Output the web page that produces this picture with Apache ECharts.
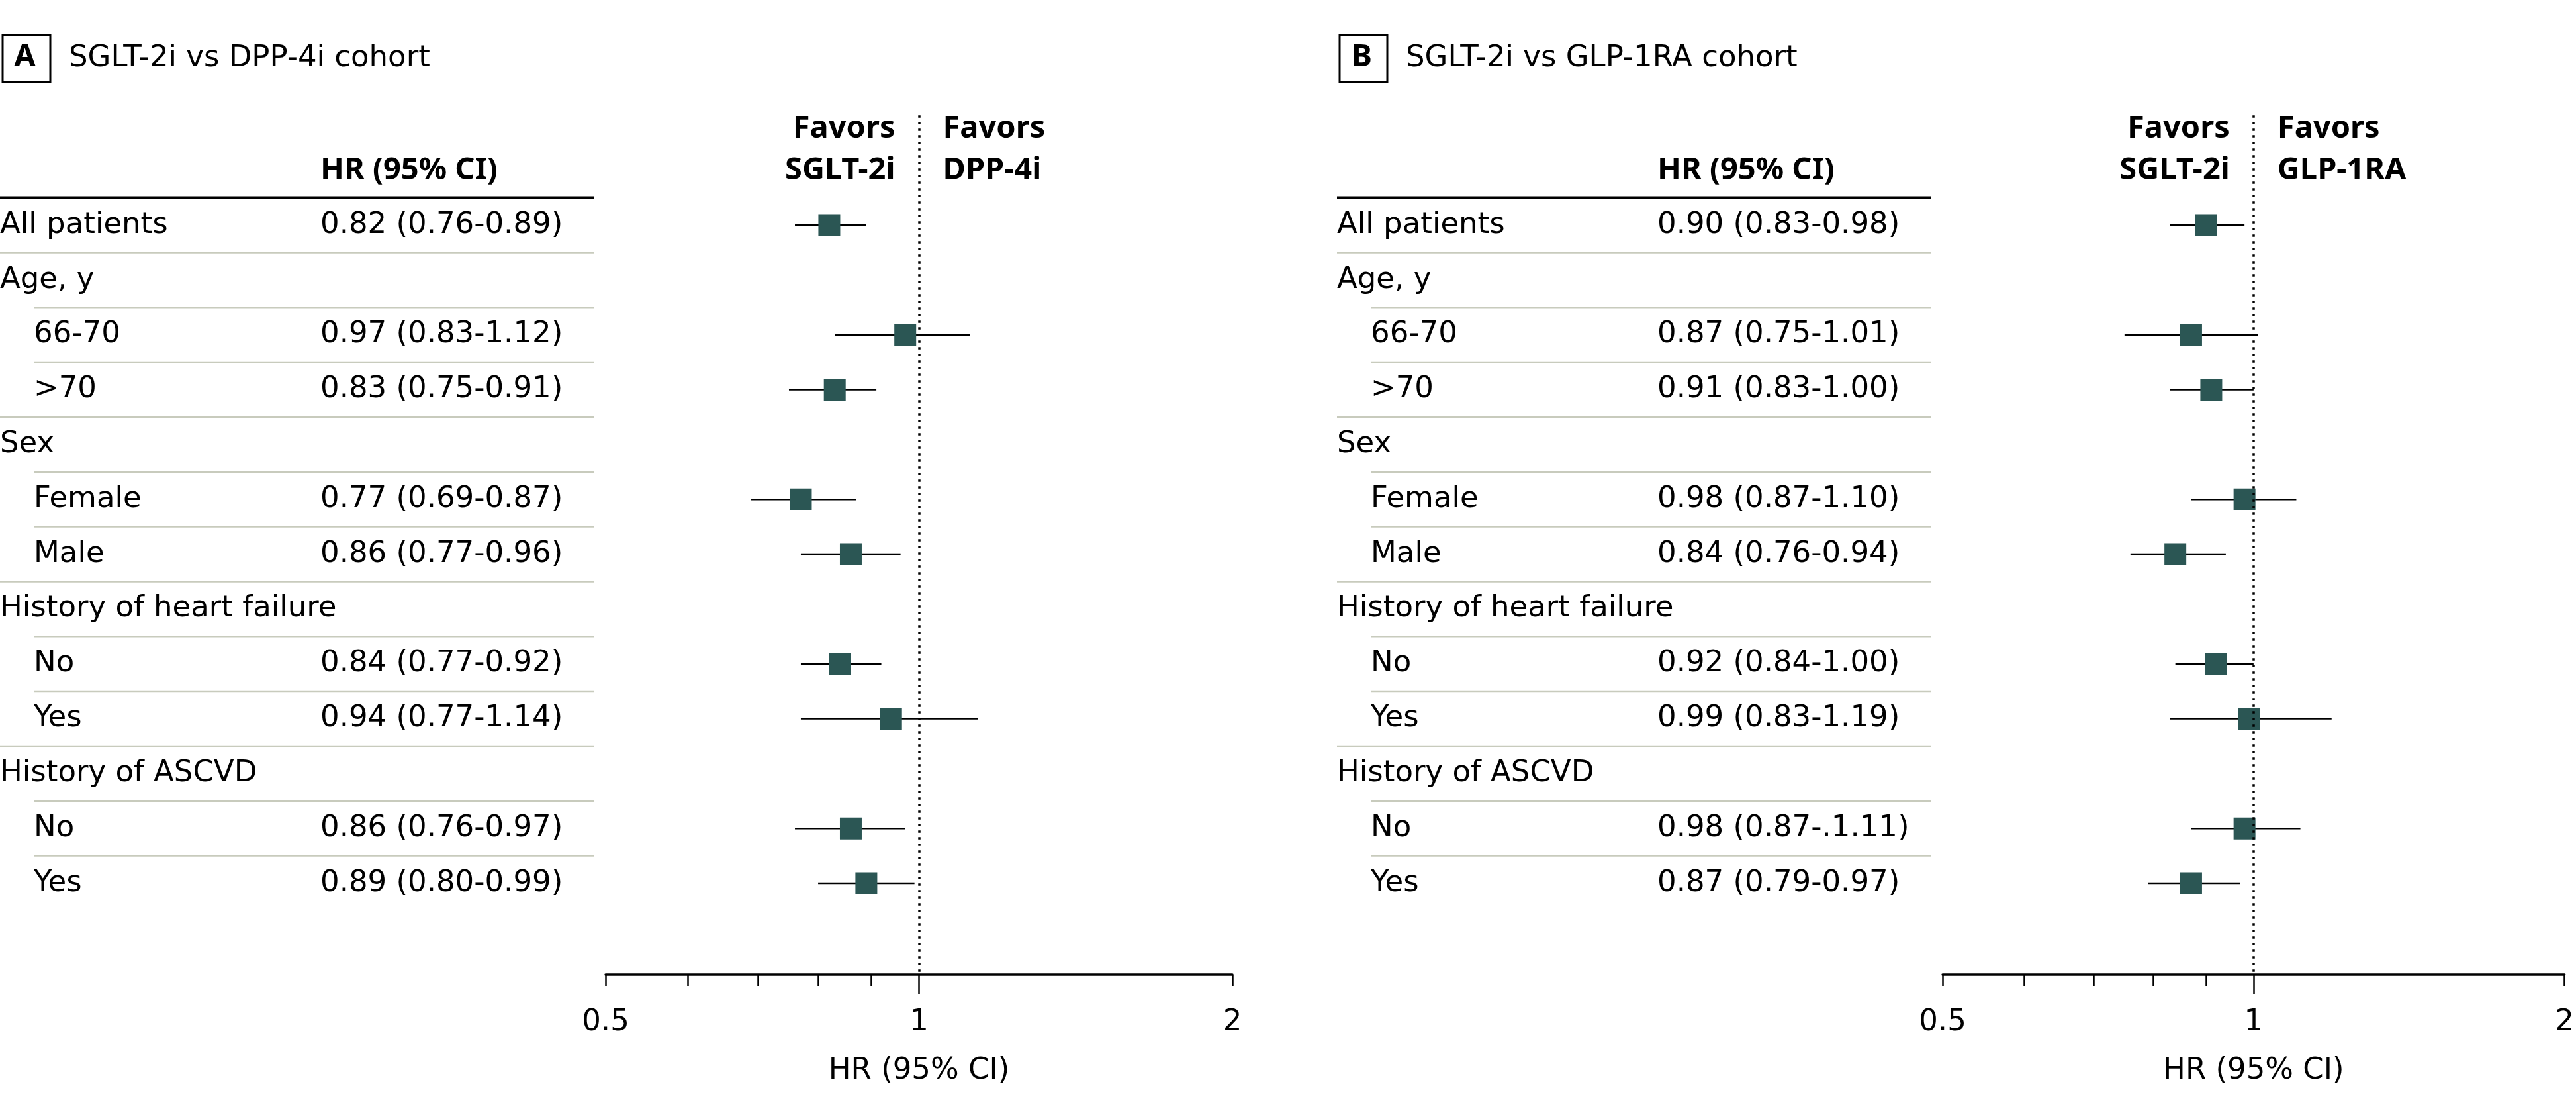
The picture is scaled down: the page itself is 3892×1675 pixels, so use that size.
<!DOCTYPE html>
<html><head><meta charset="utf-8">
<script src="https://cdn.jsdelivr.net/npm/echarts@6/dist/echarts.min.js"></script>
<style>html,body{margin:0;padding:0;background:#fff}#c{width:3892px;height:1675px}</style>
</head><body><div id="c"></div>
<script>
// ---------- data ----------
const rowLabels = ['All patients','Age, y','66-70','>70','Sex','Female','Male','History of heart failure','No','Yes','History of ASCVD','No','Yes'];
const rowIndent = [0,0,1,1,0,1,1,0,1,1,0,1,1];
const panelLetters = ['A','B'];
const panelTitles = ['SGLT-2i vs DPP-4i cohort','SGLT-2i vs GLP-1RA cohort'];
const favorsWord = 'Favors';
const favorsLeft = ['SGLT-2i','SGLT-2i'];
const favorsRight = ['DPP-4i','GLP-1RA'];
const hrA = [0.82,null,0.97,0.83,null,0.77,0.86,null,0.84,0.94,null,0.86,0.89];
const loA = [0.76,null,0.83,0.75,null,0.69,0.77,null,0.77,0.77,null,0.76,0.80];
const hiA = [0.89,null,1.12,0.91,null,0.87,0.96,null,0.92,1.14,null,0.97,0.99];
const textA = ['0.82 (0.76-0.89)','','0.97 (0.83-1.12)','0.83 (0.75-0.91)','','0.77 (0.69-0.87)','0.86 (0.77-0.96)','','0.84 (0.77-0.92)','0.94 (0.77-1.14)','','0.86 (0.76-0.97)','0.89 (0.80-0.99)'];
const hrB = [0.90,null,0.87,0.91,null,0.98,0.84,null,0.92,0.99,null,0.98,0.87];
const loB = [0.83,null,0.75,0.83,null,0.87,0.76,null,0.84,0.83,null,0.87,0.79];
const hiB = [0.98,null,1.01,1.00,null,1.10,0.94,null,1.00,1.19,null,1.11,0.97];
const textB = ['0.90 (0.83-0.98)','','0.87 (0.75-1.01)','0.91 (0.83-1.00)','','0.98 (0.87-1.10)','0.84 (0.76-0.94)','','0.92 (0.84-1.00)','0.99 (0.83-1.19)','','0.98 (0.87-.1.11)','0.87 (0.79-0.97)'];
const headerText = 'HR (95% CI)';
const axisName = 'HR (95% CI)';
const tickValues = [0.5,0.6,0.7,0.8,0.9,2];
const majorTick = [1];
const tickLabels = [0.5,1,2];
const xMin = 0.5, xMax = 2;

// ---------- layout / style ----------
const FONT = '"DejaVu Sans", sans-serif';
const BFONT = '"Noto Sans", sans-serif';
const FS = 45;
const BFS = 47;
const SQ = '#2b5654';
const SEP = '#c8cbbd';
const ROW0 = 340, STEP = 82.83, AXIS_Y = 1472;
const TOP = ROW0 - 2*STEP;
const YMIN = -2, YMAX = YMIN + (AXIS_Y - TOP)/STEP;
const OFFS = [0, 2020];
const panels = [
  {hr: hrA, lo: loA, hi: hiA, text: textA},
  {hr: hrB, lo: loB, hi: hiB, text: textB}
];

const grids = [], xAxes = [], yAxes = [], series = [], graphics = [];

panels.forEach((p, k) => {
  const off = OFFS[k];
  // table grid
  const gT = grids.length;
  grids.push({left: off, top: TOP, width: 900, height: AXIS_Y - TOP});
  const xT = xAxes.length;
  xAxes.push({type:'value', gridIndex:gT, min:0, max:900, show:false});
  const yT = yAxes.length;
  yAxes.push({type:'value', gridIndex:gT, min:YMIN, max:YMAX, inverse:true, show:false});
  // forest grid
  const gF = grids.length;
  grids.push({left: off + 915, top: TOP, width: 947, height: AXIS_Y - TOP});
  const xF = xAxes.length;
  xAxes.push({
    type:'log', logBase:2, gridIndex:gF, min:xMin, max:xMax, position:'bottom',
    axisLine:{show:true, onZero:false, lineStyle:{color:'#000', width:3.5}},
    axisTick:{show:true, customValues: tickValues, length:17, lineStyle:{color:'#000', width:2.5}},
    axisLabel:{show:true, customValues: tickLabels, color:'#000', fontSize:FS, fontFamily:FONT, margin:50,
      formatter: v => String(+(+v).toFixed(2))},
    splitLine:{show:false},
    name: axisName, nameLocation:'middle', nameGap:123,
    nameTextStyle:{color:'#000', fontSize:FS, fontFamily:FONT}
  });
  xAxes.push({
    type:'log', logBase:2, gridIndex:gF, min:xMin, max:xMax, position:'bottom',
    axisLine:{show:false, onZero:false},
    axisTick:{show:true, customValues: majorTick, length:29, lineStyle:{color:'#000', width:2.5}},
    axisLabel:{show:false}, splitLine:{show:false}
  });
  const yF = yAxes.length;
  yAxes.push({type:'value', gridIndex:gF, min:YMIN, max:YMAX, inverse:true, show:false});

  // table rendering
  series.push({
    type:'custom', xAxisIndex:xT, yAxisIndex:yT, silent:true,
    data: rowLabels.map((_, i) => [0, i]),
    renderItem: (params, api) => {
      const i = api.value(1);
      const ch = [];
      const lx = rowIndent[i] ? 51 : 0;
      const pl = api.coord([lx, i]);
      ch.push({type:'text', style:{text: rowLabels[i], x: pl[0], y: pl[1], fill:'#000', font: FS + 'px ' + FONT, textAlign:'left', textVerticalAlign:'middle'}});
      const ph = api.coord([484, i]);
      if (p.text[i]) ch.push({type:'text', style:{text: p.text[i], x: ph[0], y: ph[1], fill:'#000', font: FS + 'px ' + FONT, textAlign:'left', textVerticalAlign:'middle'}});
      if (i < rowLabels.length - 1) {
        const sx = rowIndent[i+1] ? 51 : 0;
        const a = api.coord([sx, i + 0.5]), b = api.coord([898, i + 0.5]);
        ch.push({type:'line', shape:{x1:a[0], y1:a[1], x2:b[0], y2:b[1]}, style:{stroke: SEP, lineWidth:2.5}});
      }
      if (i === 0) {
        const a = api.coord([0, -0.5]), b = api.coord([898, -0.5]);
        ch.push({type:'line', shape:{x1:a[0], y1:a[1], x2:b[0], y2:b[1]}, style:{stroke:'#000', lineWidth:4}});
        const h = api.coord([484, -1]);
        ch.push({type:'text', style:{text: headerText, x:h[0], y:h[1], fill:'#000', font: 'bold ' + BFS + 'px ' + BFONT, textAlign:'left', textVerticalAlign:'middle'}});
      }
      return {type:'group', children: ch};
    }
  });

  // CI lines
  series.push({
    type:'custom', xAxisIndex:xF, yAxisIndex:yF, silent:true, z:2,
    data: p.hr.map((v, i) => v == null ? null : [p.lo[i], p.hi[i], i]).filter(d => d),
    encode:{x:[0,1], y:2},
    renderItem: (params, api) => {
      const a = api.coord([api.value(0), api.value(2)]);
      const b = api.coord([api.value(1), api.value(2)]);
      return {type:'line', shape:{x1:a[0], y1:a[1], x2:b[0], y2:b[1]}, style:{stroke:'#000', lineWidth:2.5}};
    }
  });
  // squares + reference line
  series.push({
    type:'scatter', xAxisIndex:xF, yAxisIndex:yF, z:3, silent:true,
    symbol:'rect', symbolSize:33,
    itemStyle:{color: SQ, opacity:1},
    data: p.hr.map((v, i) => v == null ? null : [v, i]).filter(d => d),
    markLine:{
      silent:true, symbol:'none', label:{show:false}, z:4,
      lineStyle:{color:'#000', type:[3.5,6.5], width:3.5},
      data:[{xAxis:1}]
    }
  });
  // favors labels
  series.push({
    type:'custom', xAxisIndex:xF, yAxisIndex:yF, silent:true,
    data:[[1, -1]],
    renderItem: (params, api) => {
      const c1 = api.coord([1, -1.76]);
      const c2 = api.coord([1, -1]);
      const f = 'bold ' + BFS + 'px ' + BFONT;
      return {type:'group', children:[
        {type:'text', style:{text:favorsWord, x:c1[0]-36, y:c1[1], fill:'#000', font:f, textAlign:'right', textVerticalAlign:'middle'}},
        {type:'text', style:{text:favorsLeft[k], x:c2[0]-36, y:c2[1], fill:'#000', font:f, textAlign:'right', textVerticalAlign:'middle'}},
        {type:'text', style:{text:favorsWord, x:c1[0]+36, y:c1[1], fill:'#000', font:f, textAlign:'left', textVerticalAlign:'middle'}},
        {type:'text', style:{text:favorsRight[k], x:c2[0]+36, y:c2[1], fill:'#000', font:f, textAlign:'left', textVerticalAlign:'middle'}}
      ]};
    }
  });

  // panel label + title
  graphics.push({type:'rect', left: off + 1.5, top: 51, shape:{width:72, height:71}, style:{fill:'none', stroke:'#000', lineWidth:3}});
  graphics.push({type:'text', x: off + 37.5, y: 87, style:{text: panelLetters[k], fill:'#000', font:'bold ' + BFS + 'px ' + BFONT, textAlign:'center', textVerticalAlign:'middle'}});
  graphics.push({type:'text', x: off + 104, y: 88, style:{text: panelTitles[k], fill:'#000', font: FS + 'px ' + FONT, textAlign:'left', textVerticalAlign:'middle'}});
});

const chart = echarts.init(document.getElementById('c'), null, {renderer:'canvas'});
chart.setOption({
  backgroundColor:'#fff',
  animation:false,
  grid: grids, xAxis: xAxes, yAxis: yAxes, series: series, graphic: graphics
});
</script>
</body></html>
